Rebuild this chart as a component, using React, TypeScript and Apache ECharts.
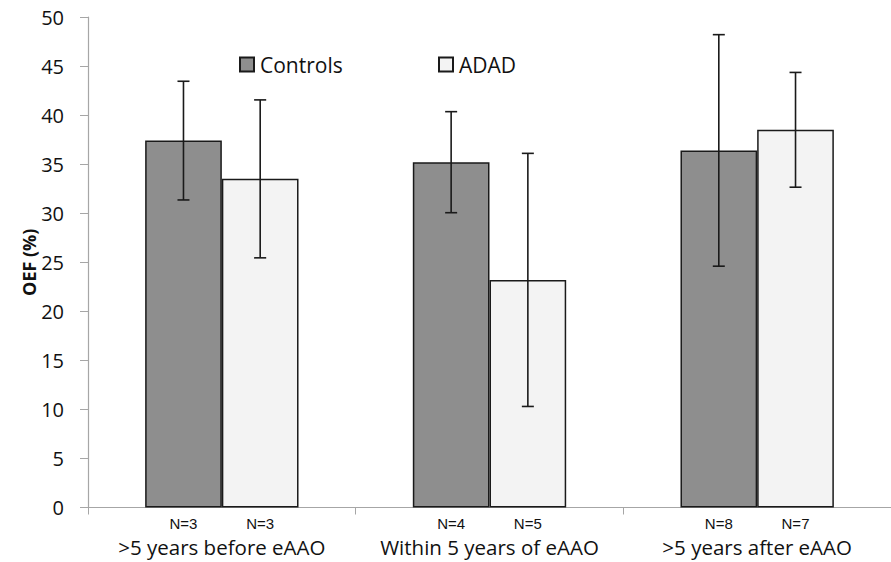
import React, { useEffect, useRef } from "react";
import * as echarts from "echarts";

const categories = [">5 years before eAAO", "Within 5 years of eAAO", ">5 years after eAAO"];
const controlsMean = [37.4, 35.2, 36.4];
const controlsErr = [6.05, 5.15, 11.8];
const adadMean = [33.5, 23.2, 38.5];
const adadErr = [8.05, 12.9, 5.85];
const controlsN = [3, 4, 8];
const adadN = [3, 5, 7];
const yTicks = { min: 0, max: 50, interval: 5 };

const FONT = "'Open Sans', Lato, sans-serif";
const NARROW = "'Liberation Sans Narrow', 'Arial Narrow', 'Liberation Sans', sans-serif";

const BAR_FRAC = 0.2866; // bar width as fraction of category width

function errData(mean: number[], err: number[]) {
  return mean.map((m, i) => [i, m - err[i], m + err[i]]);
}

function makeErrRender(sign: number) {
  return (params: any, api: any) => {
    const idx = api.value(0);
    const lo = api.coord([idx, api.value(1)]);
    const hi = api.coord([idx, api.value(2)]);
    const bw = api.size([1, 0])[0];
    const x = lo[0] + sign * bw * BAR_FRAC / 2;
    const cap = 6;
    const style = { stroke: "#1a1a1a", lineWidth: 1.6 };
    return {
      type: "group",
      children: [
        { type: "line", shape: { x1: x, y1: lo[1], x2: x, y2: hi[1] }, style },
        { type: "line", shape: { x1: x - cap, y1: hi[1], x2: x + cap, y2: hi[1] }, style },
        { type: "line", shape: { x1: x - cap, y1: lo[1], x2: x + cap, y2: lo[1] }, style },
      ],
    };
  };
}

export default function App() {
  const ref = useRef<HTMLDivElement>(null);
  useEffect(() => {
    if (!ref.current) return;
    const chart = echarts.init(ref.current, undefined, { renderer: "svg" });
    const nLabel = (arr: number[]) => ({
      show: true,
      position: "bottom",
      distance: 9,
      formatter: (p: any) => "N=" + arr[p.dataIndex],
      fontFamily: NARROW,
      fontSize: 15,
      lineHeight: 14,
      color: "#111",
    });
    const legendBase = {
      top: 54,
      padding: 0,
      itemWidth: 14,
      itemHeight: 14,
      icon: "rect",
      textStyle: { fontFamily: FONT, fontSize: 21, color: "#111", padding: [0, 0, 0, 1] },
    };
    chart.setOption({
      animation: false,
      backgroundColor: "#fff",
      grid: { left: 88, top: 17, bottom: 54.5, right: -8.5, containLabel: false },
      legend: [
        { ...legendBase, left: 239, data: ["Controls"] },
        { ...legendBase, left: 438, data: ["ADAD"] },
      ],
      xAxis: {
        type: "category",
        data: categories,
        axisLine: { lineStyle: { color: "#a6a6a6", width: 1.2 } },
        axisTick: { show: true, length: 7, lineStyle: { color: "#a6a6a6" } },
        axisLabel: {
          interval: 0,
          hideOverlap: false,
          margin: 29,
          lineHeight: 21,
          fontFamily: FONT,
          fontSize: 20.5,
          color: "#111",
        },
      },
      yAxis: {
        type: "value",
        min: yTicks.min,
        max: yTicks.max,
        interval: yTicks.interval,
        name: "OEF (%)",
        nameLocation: "middle",
        nameGap: 50,
        nameMoveOverlap: false,
        nameTextStyle: { fontFamily: FONT, fontSize: 18, fontWeight: "bold", color: "#111" },
        axisLine: { show: true, lineStyle: { color: "#a6a6a6", width: 1.2 } },
        axisTick: { show: true, length: 8, lineStyle: { color: "#a6a6a6" } },
        axisLabel: { margin: 24, fontFamily: FONT, fontSize: 20, color: "#111" },
        splitLine: { show: false },
      },
      series: [
        {
          name: "Controls",
          type: "bar",
          data: controlsMean,
          barGap: "0%",
          barCategoryGap: "42.7%",
          itemStyle: { color: "#8e8e8e", borderColor: "#1a1a1a", borderWidth: 1.5 },
          label: nLabel(controlsN),
          z: 2,
        },
        {
          name: "ADAD",
          type: "bar",
          data: adadMean,
          barGap: "0%",
          barCategoryGap: "42.7%",
          itemStyle: { color: "#f3f3f3", borderColor: "#1a1a1a", borderWidth: 1.5 },
          label: nLabel(adadN),
          z: 2,
        },
        {
          type: "custom",
          renderItem: makeErrRender(-1),
          data: errData(controlsMean, controlsErr),
          encode: { x: 0, y: [1, 2] },
          z: 5,
          silent: true,
        },
        {
          type: "custom",
          renderItem: makeErrRender(1),
          data: errData(adadMean, adadErr),
          encode: { x: 0, y: [1, 2] },
          z: 5,
          silent: true,
        },
      ],
    });
    return () => chart.dispose();
  }, []);
  return (
    <div
      ref={ref}
      style={{ position: "fixed", left: 0, top: 0, width: 891, height: 562 }}
    />
  );
}
